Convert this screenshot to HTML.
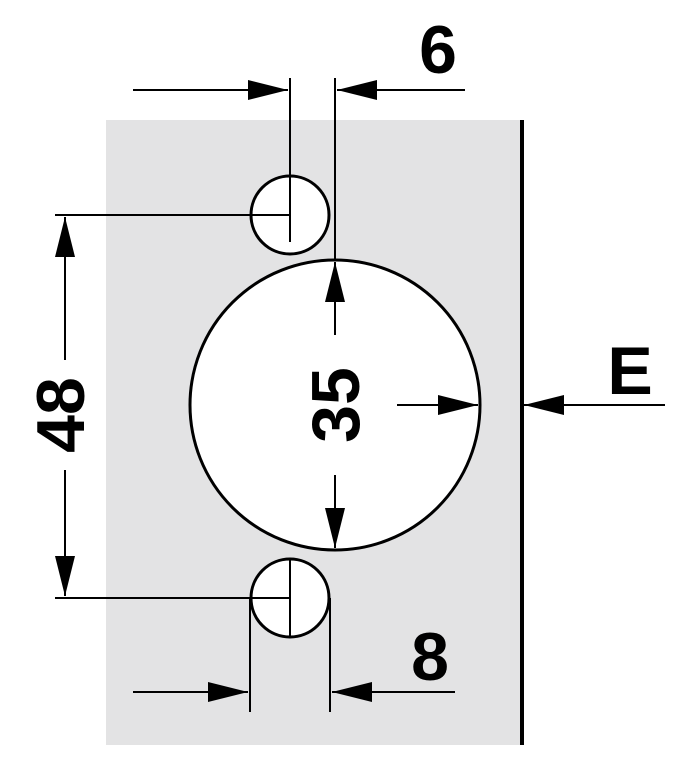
<!DOCTYPE html>
<html><head><style>html,body{margin:0;padding:0;background:#fff}svg{display:block}</style></head>
<body>
<svg width="690" height="770" viewBox="0 0 690 770" xmlns="http://www.w3.org/2000/svg">
<defs>
<marker id="a" markerWidth="40" markerHeight="20" refX="40" refY="10" orient="auto" markerUnits="userSpaceOnUse">
<path d="M0,0 L40,10 L0,20 Z" fill="#000"/></marker>
</defs>
<rect x="106" y="120" width="416" height="625" fill="#e3e3e4"/>
<line x1="522" y1="120" x2="522" y2="745" stroke="#000" stroke-width="4"/>
<g fill="#fff" stroke="#000" stroke-width="3">
<circle cx="290" cy="215" r="39"/>
<circle cx="335" cy="405" r="145"/>
<circle cx="290" cy="598" r="39"/>
</g>
<g stroke="#000" stroke-width="2" fill="none">
<line x1="55" y1="215" x2="290" y2="215"/>
<line x1="55" y1="598" x2="290" y2="598"/>
<line x1="290" y1="78" x2="290" y2="242"/>
<line x1="335" y1="78" x2="335" y2="260"/>
<line x1="290" y1="560" x2="290" y2="638"/>
<line x1="250" y1="598" x2="250" y2="712"/>
<line x1="330" y1="598" x2="330" y2="712"/>
<line x1="65" y1="360" x2="65" y2="217" marker-end="url(#a)"/>
<line x1="65" y1="470" x2="65" y2="596" marker-end="url(#a)"/>
<line x1="133" y1="90" x2="288" y2="90" marker-end="url(#a)"/>
<line x1="465" y1="90" x2="337" y2="90" marker-end="url(#a)"/>
<line x1="335" y1="335" x2="335" y2="262" marker-end="url(#a)"/>
<line x1="335" y1="475" x2="335" y2="548" marker-end="url(#a)"/>
<line x1="397" y1="405" x2="478" y2="405" marker-end="url(#a)"/>
<line x1="665" y1="405" x2="524" y2="405" marker-end="url(#a)"/>
<line x1="133" y1="692" x2="248" y2="692" marker-end="url(#a)"/>
<line x1="455" y1="692" x2="332" y2="692" marker-end="url(#a)"/>
</g>
<g font-family="Liberation Sans, sans-serif" font-weight="bold" font-size="68" fill="#000" text-anchor="middle">
<text x="438" y="73">6</text>
<text x="630" y="394">E</text>
<text x="430" y="680">8</text>
<text transform="translate(84,415) rotate(-90)">48</text>
<text transform="translate(359,405) rotate(-90)">35</text>
</g>
</svg>
</body></html>
